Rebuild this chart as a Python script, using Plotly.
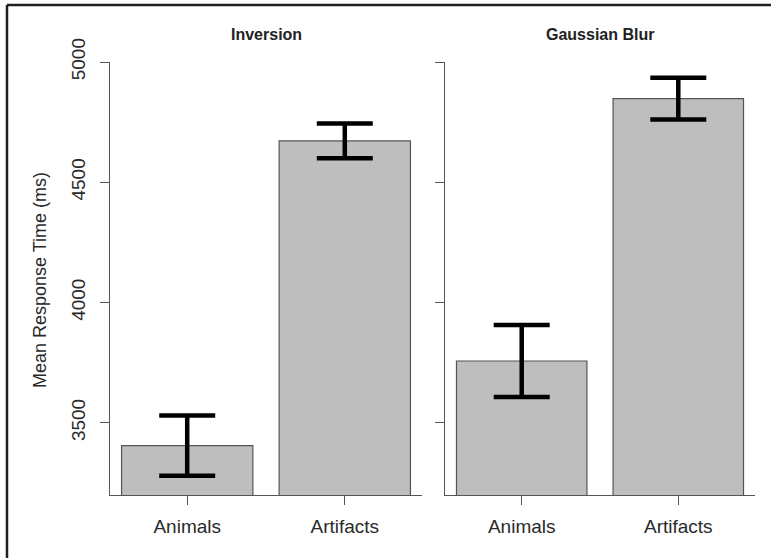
import plotly.graph_objects as go

W, H = 771, 558

categories = ["Animals", "Artifacts"]
panel_titles = ["Inversion", "Gaussian Blur"]
inversion_means = [3405, 4672]
inversion_err = [125, 72]
blur_means = [3757, 4848]
blur_err = [150, 87]
y_ticks = [3500, 4000, 4500, 5000]

bar_pos = [0.7, 1.9]

fig = go.Figure()

def px_x(p):
    return p / W

def px_y(p):
    return 1 - p / H

panels = [
    (inversion_means, inversion_err, "x", "y"),
    (blur_means, blur_err, "x2", "y2"),
]
for means, errs, xa, ya in panels:
    fig.add_trace(go.Bar(
        x=bar_pos, y=means, width=1.0,
        marker=dict(color="#bebebe", line=dict(color="#555555", width=1.2)),
        error_y=dict(type="data", array=errs, visible=True, color="#000000",
                     thickness=4.5, width=28),
        xaxis=xa, yaxis=ya, showlegend=False, hoverinfo="skip",
    ))

axis_common = dict(
    showgrid=False, zeroline=False, showline=True, linecolor="#555555", linewidth=1.2,
    ticks="outside", ticklen=9, tickcolor="#555555", tickwidth=1.2, automargin=False,
)
xr = [0.112, 2.488]
font_tick = dict(family="Liberation Sans, Arial, sans-serif", size=19, color="#2a2a2a")

fig.update_layout(
    width=W, height=H,
    margin=dict(l=0, r=0, t=0, b=0, autoexpand=False),
    paper_bgcolor="white", plot_bgcolor="white",
    xaxis=dict(domain=[px_x(110), px_x(422)], range=xr, tickvals=bar_pos, ticktext=categories,
               tickfont=font_tick, anchor="y", ticklabelstandoff=5, **axis_common),
    yaxis=dict(domain=[px_y(495), px_y(62)], range=[3200, 5000], tickvals=y_ticks,
               tickangle=-90, tickfont=font_tick, anchor="x", ticklabelstandoff=7, **axis_common),
    xaxis2=dict(domain=[px_x(445), px_x(755)], range=xr, tickvals=bar_pos, ticktext=categories,
                tickfont=font_tick, anchor="y2", ticklabelstandoff=5, **axis_common),
    yaxis2=dict(domain=[px_y(495), px_y(62)], range=[3200, 5000], tickvals=y_ticks,
                showticklabels=False, anchor="x2", **axis_common),
)

for title, (x0, x1) in zip(panel_titles, [(110, 422), (445, 755)]):
    fig.add_annotation(text="<b>" + title + "</b>", x=px_x((x0 + x1) / 2), y=px_y(35),
                       xref="paper", yref="paper", showarrow=False,
                       xanchor="center", yanchor="middle",
                       font=dict(family="Liberation Sans, Arial, sans-serif", size=16, color="#222222"))

fig.add_annotation(text="Mean Response Time (ms)", x=px_x(40), y=px_y(280),
                   xref="paper", yref="paper", showarrow=False, textangle=-90,
                   xanchor="center", yanchor="middle",
                   font=dict(family="Liberation Sans, Arial, sans-serif", size=18, color="#2a2a2a"))

# outer frame (top and left edges)
fig.add_shape(type="line", xref="paper", yref="paper", x0=px_x(7), x1=1.0, y0=px_y(5), y1=px_y(5),
              line=dict(color="#231f20", width=2.5))
fig.add_shape(type="line", xref="paper", yref="paper", x0=px_x(7), x1=px_x(7), y0=px_y(5), y1=0.0,
              line=dict(color="#231f20", width=2.5))

fig.write_html("out.html", config={"displayModeBar": False},
               post_script="document.body.style.margin='0';")
